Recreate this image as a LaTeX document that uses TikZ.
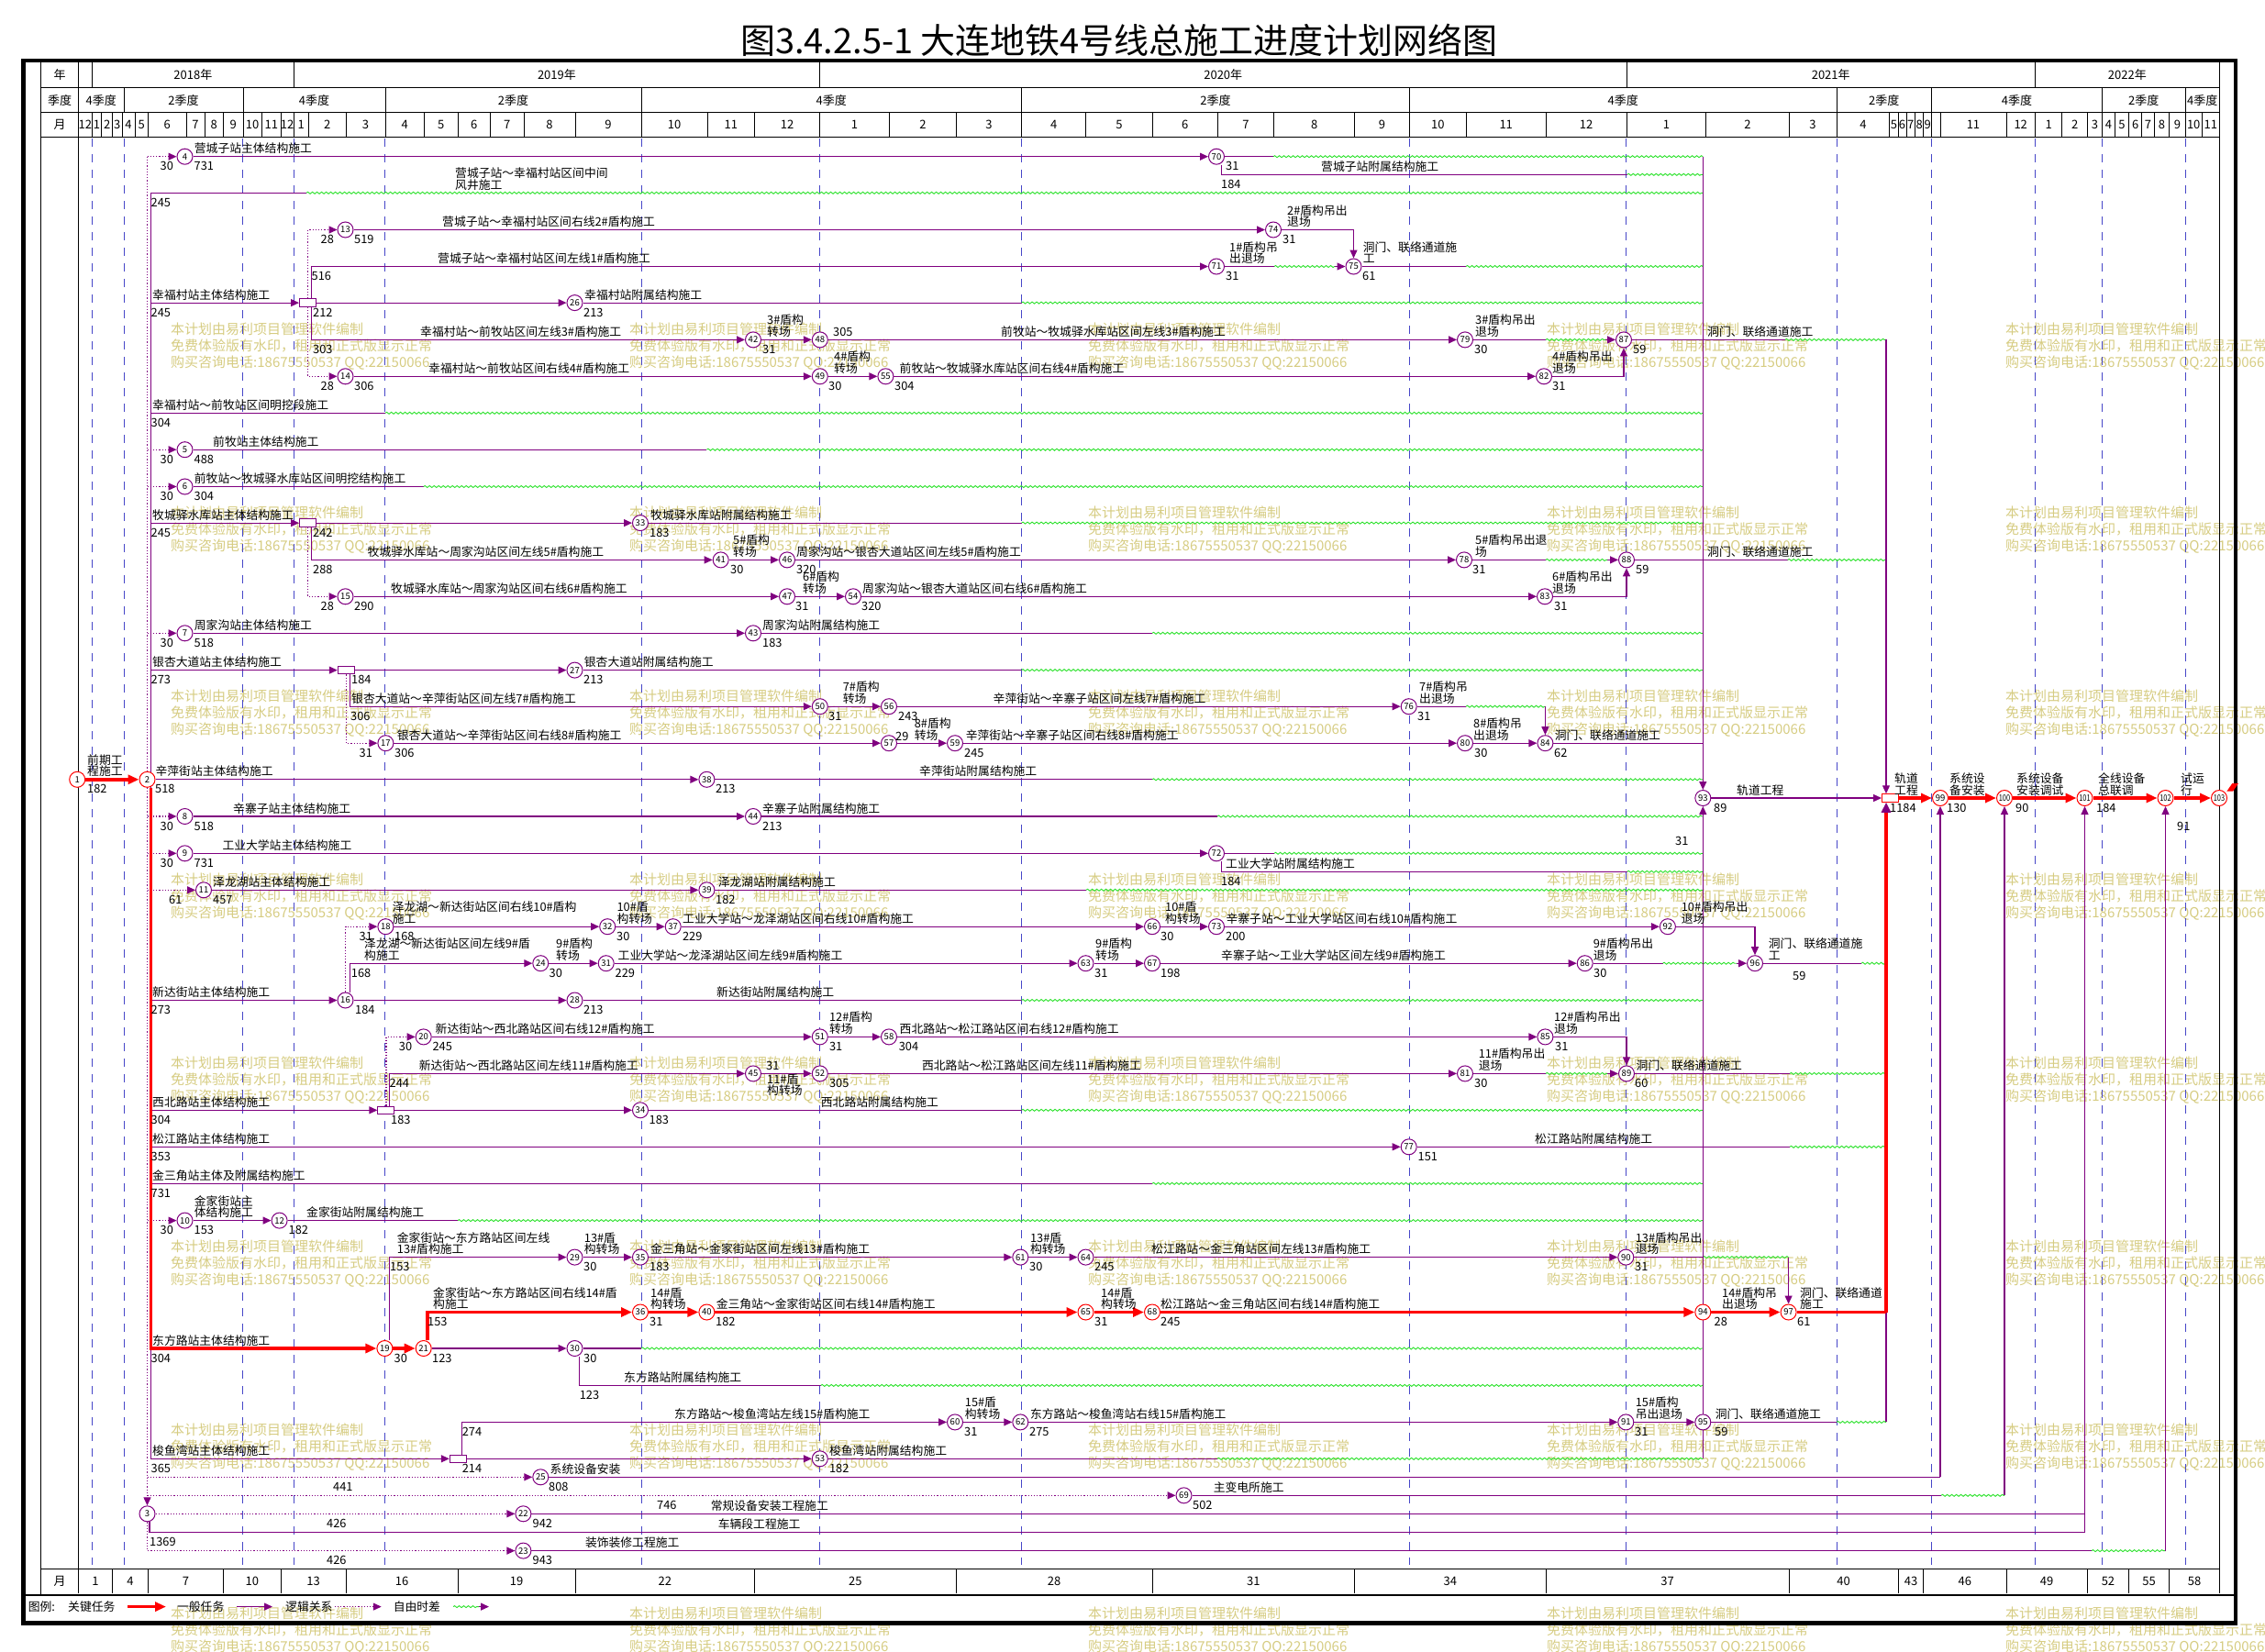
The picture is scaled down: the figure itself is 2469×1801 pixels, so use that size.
\documentclass[tikz,border=0pt]{standalone}
\usepackage{fontspec}
\usepackage{graphicx}
\setmainfont{Noto Sans CJK SC}
\usetikzlibrary{arrows.meta,decorations.pathmorphing}
\definecolor{pur}{RGB}{128,0,128}
\definecolor{grn}{RGB}{40,225,40}
\definecolor{gridb}{RGB}{70,70,200}
\definecolor{wmk}{RGB}{214,204,130}
\pgfdeclarelayer{wm}
\pgfdeclarelayer{bgl}
\pgfsetlayers{wm,bgl,main}
\newcount\lc
\newcommand\fl{\fontsize{12.8}{13}\selectfont}
\newcommand\Ab[3]{\global\advance\lc by 1 \node[lb] (t\the\lc) at (#1,#2-4) {#3};}
\newcommand\Bb[3]{\global\advance\lc by 1 \node[lb] (t\the\lc) at (#1,#2+15) {#3};}
\newcommand\At[3]{\global\advance\lc by 1 \node[lb] (t\the\lc) at (#1,#2) {#3};}
\newcommand\Tw[4]{\Ab{#1}{#2-12.5}{#3}\Ab{#1}{#2}{#4}}
\newcommand\Tb[4]{\At{#1}{#2+11}{#3}\At{#1}{#2+23.5}{#4}}
\newcommand\nn[1]{\ifnum#1>99 \scalebox{0.78}[1]{#1}\else#1\fi}
\newcommand\Cn[3]{\node[cn] (n#1) at (#2,#3) {\nn{#1}};}
\newcommand\Cr[3]{\node[cn,draw=red] (n#1) at (#2,#3) {\nn{#1}};}
\newcommand\SW[3]{\draw[ln] (n#1) -- (#2,#3) coordinate (w#1); \draw[wv] (w#1) -- (xc |- w#1);}
\newcommand\SD[3]{\draw[ln] (n#1) -- (#2,#3) coordinate (w#1); \draw[wv] (w#1) -- (xd |- w#1) coordinate (e#1);}
\newcommand\SWA[5]{\draw[ln] (n#1) -- (#3,#5) coordinate (a#1); \draw[wv] (a#1) -- (#4,#5) coordinate (b#1); \draw[ln,tri] (b#1) -- (n#2);}
\begin{document}
\begin{tikzpicture}[x=1pt,y=-1pt,
  lb/.style={anchor=base west,inner sep=0pt,font=\fl},
  cn/.style={circle,draw=pur,fill=white,line width=1pt,minimum size=17pt,inner sep=0pt,font=\fontsize{9.5}{10}\selectfont},
  bx/.style={rectangle,draw=pur,fill=white,line width=1pt,minimum width=18pt,minimum height=8.5pt,inner sep=0pt},
  ln/.style={draw=pur,line width=1.2pt},
  dt/.style={draw=pur,line width=1.2pt,dotted},
  cr/.style={draw=red,line width=3.5pt},
  wv/.style={draw=grn,line width=0.9pt,decorate,decoration={snake,amplitude=1pt,segment length=5pt}},
  tri/.style={-{Triangle[length=9pt,width=8pt]}},
  ctri/.style={-{Triangle[length=12pt,width=10pt]}},
  hd/.style={font=\fontsize{13}{13}\selectfont,inner sep=0pt},
  gl/.style={draw=black,line width=0.8pt},
  wmt/.style={anchor=base west,inner sep=0pt,text=wmk,font=\fontsize{15}{15}\selectfont}]
\useasboundingbox (0,0) rectangle (2469,1801);

% ---------- watermark ----------
\begin{pgfonlayer}{wm}
\foreach \wx [count=\i] in {186,686,1186,1686,2186}
 \foreach \wy [count=\j] in {358,558,758,958,1158,1358,1558,1758} {
  \node[wmt] (wa\i-\j) at (\wx,\wy+6) {本计划由易利项目管理软件编制};
  \node[wmt] (wb\i-\j) at (\wx,\wy+24) {免费体验版有水印，租用和正式版显示正常};
  \node[wmt] (wc\i-\j) at (\wx,\wy+42) {购买咨询电话:18675550537 QQ:22150066};
 }
\end{pgfonlayer}

% ---------- title & table ----------
\node[font=\fontsize{38}{38}\selectfont,inner sep=0pt] (title) at (1220,44) {图3.4.2.5-1 大连地铁4号线总施工进度计划网络图};
\node[hd] (hy) at (65,82) {年};
\node[hd] (hq) at (65,109.2) {季度};
\node[hd] (hm) at (65,136) {月};
\node[hd] (bm) at (65,1724) {月};
\foreach \a/\b/\t [count=\i] in {85.4/100.4/{},100.4/320.3/2018年,320.3/893.6/2019年,893.6/1772.9/2020年,1772.9/2218.5/2021年,2218.5/2419.3/2022年}
  \node[hd] (yr\i) at ({(\a+\b)/2},82) {\t};
\foreach \a/\b/\t [count=\i] in {85.4/135/4季度,135/264.9/2季度,264.9/419.9/4季度,419.9/699.1/2季度,699.1/1113.5/4季度,1113.5/1536.6/2季度,1536.6/2002/4季度,2002/2105.6/2季度,2105.6/2291.3/4季度,2291.3/2382.1/2季度,2382.1/2419.3/4季度}
  \node[hd] (qt\i) at ({(\a+\b)/2},109.2) {\t};
\foreach \a/\b/\t [count=\i] in {85.4/100.4/12,100.4/110.7/1,110.7/122.6/2,122.6/132.9/3,132.9/147.1/4,147.1/161.3/5,161.3/203.2/6,203.2/223/7,223/243.6/8,243.6/264.9/9,264.9/285.5/10,285.5/306/11,306/320.3/12,320.3/336.1/1,336.1/377.2/2,377.2/419.9/3,419.9/462.6/4,462.6/499/5,499/534.6/6,534.6/571/7,571/627.1/8,627.1/699.1/9,699.1/771/10,771/822.5/11,822.5/893.6/12,893.6/969.5/1,969.5/1042.3/2,1042.3/1113.5/3,1113.5/1183.8/4,1183.8/1256.1/5,1256.1/1327.2/6,1327.2/1388.8/7,1388.8/1476.5/8,1476.5/1536.6/9,1536.6/1598.2/10,1598.2/1685.2/11,1685.2/1772.9/12,1772.9/1859.8/1,1859.8/1949.9/2,1949.9/2002/3,2002/2059.7/4,2059.7/2069.2/5,2069.2/2077.9/6,2077.9/2087.4/7,2087.4/2096.8/8,2096.8/2105.6/9,2105.6/2115/{},2115/2186.9/11,2186.9/2218.5/12,2218.5/2247.8/1,2247.8/2275.4/2,2275.4/2291.3/3,2291.3/2305.5/4,2305.5/2320.5/5,2320.5/2334.7/6,2334.7/2348.2/7,2348.2/2364.8/8,2364.8/2382.1/9,2382.1/2400.3/10,2400.3/2419.3/11}
  \node[hd] (mo\i) at ({(\a+\b)/2},136) {\t};
\foreach \a/\b/\t [count=\i] in {85.4/122.6/1,122.6/161.3/4,161.3/243.6/7,243.6/306/10,306/377.2/13,377.2/499/16,499/627.1/19,627.1/822.5/22,822.5/1042.3/25,1042.3/1256.1/28,1256.1/1476.5/31,1476.5/1685.2/34,1685.2/1949.9/37,1949.9/2069.2/40,2069.2/2096.8/43,2096.8/2186.9/46,2186.9/2275.4/49,2275.4/2320.5/52,2320.5/2364.8/55,2364.8/2419.3/58}
  \node[hd] (ax\i) at ({(\a+\b)/2},1724) {\t};

% ---------- nodes ----------
\Cr{1}{84.2}{849.8}
\Cr{2}{160.5}{849.8}
\Cn{3}{160.5}{1650.3}
\Cn{4}{201.5}{170.7}
\Cn{5}{201.5}{490.2}
\Cn{6}{201.5}{530.5}
\Cn{7}{201.5}{690.3}
\Cn{8}{201.5}{890}
\Cn{9}{201.5}{930.3}
\Cn{10}{201.5}{1330.6}
\Cn{11}{222}{970.3}
\Cn{12}{304.6}{1330.6}
\Cn{13}{376.5}{250.5}
\Cn{14}{376.5}{410.3}
\Cn{15}{376.5}{650.3}
\Cn{16}{376.5}{1090.5}
\Cn{17}{420.4}{810.2}
\Cn{18}{420.4}{1010.2}
\Cr{19}{419.4}{1470}
\Cn{20}{461.7}{1130.4}
\Cr{21}{461.7}{1470}
\Cn{22}{570.4}{1650.3}
\Cn{23}{570.4}{1690.6}
\Cn{24}{589.3}{1050.2}
\Cn{25}{589.3}{1610.3}
\Cn{26}{626.5}{330.1}
\Cn{27}{626.5}{730.6}
\Cn{28}{626.5}{1090.5}
\Cn{29}{626.5}{1370.6}
\Cn{30}{626.5}{1470}
\Cn{31}{660.7}{1050.2}
\Cn{32}{662.2}{1010.2}
\Cn{33}{698}{570.1}
\Cn{34}{698}{1210.3}
\Cn{35}{698}{1370.6}
\Cr{36}{698}{1430.5}
\Cn{37}{733.7}{1010.2}
\Cn{38}{770.4}{849.8}
\Cn{39}{770.4}{970.3}
\Cr{40}{770.4}{1430.5}
\Cn{41}{785.7}{610.4}
\Cn{42}{821}{370.4}
\Cn{43}{821}{690.3}
\Cn{44}{821}{890}
\Cn{45}{821}{1170.4}
\Cn{46}{858}{610.4}
\Cn{47}{858}{650.3}
\Cn{48}{893.8}{370.4}
\Cn{49}{893.8}{410.3}
\Cn{50}{893.8}{770.2}
\Cn{51}{893.8}{1130.4}
\Cn{52}{893.8}{1170.4}
\Cn{53}{893.8}{1590.3}
\Cn{54}{930}{650.3}
\Cn{55}{965.4}{410.3}
\Cn{56}{969}{770.2}
\Cn{57}{969}{810.2}
\Cn{58}{969}{1130.4}
\Cn{59}{1041}{810.2}
\Cn{60}{1041}{1550.4}
\Cn{61}{1112.3}{1370.6}
\Cn{62}{1112.3}{1550.4}
\Cn{63}{1183.5}{1050.2}
\Cn{64}{1183.5}{1370.6}
\Cr{65}{1183.5}{1430.5}
\Cn{66}{1256}{1010.2}
\Cn{67}{1256}{1050.2}
\Cr{68}{1256}{1430.5}
\Cn{69}{1290.5}{1630.3}
\Cn{70}{1326}{170.7}
\Cn{71}{1326}{290.5}
\Cn{72}{1326}{930.3}
\Cn{73}{1326}{1010.2}
\Cn{74}{1388}{250.5}
\Cn{75}{1475.5}{290.5}
\Cn{76}{1535.7}{770.2}
\Cn{77}{1535.7}{1250.3}
\Cn{78}{1596}{610.4}
\Cn{79}{1597}{370.4}
\Cn{80}{1597}{810.2}
\Cn{81}{1597}{1170.4}
\Cn{82}{1683}{410.3}
\Cn{83}{1684}{650.3}
\Cn{84}{1684.4}{810.2}
\Cn{85}{1684.4}{1130.4}
\Cn{86}{1727.7}{1050.2}
\Cn{87}{1770}{370.4}
\Cn{88}{1773}{610.4}
\Cn{89}{1773}{1170.4}
\Cn{90}{1772.3}{1370.6}
\Cn{91}{1772.3}{1550.4}
\Cn{92}{1817.9}{1010.2}
\Cn{93}{1856.3}{870}
\Cr{94}{1856.3}{1430.5}
\Cn{95}{1856.3}{1550.4}
\Cn{96}{1913}{1050.2}
\Cr{97}{1949.6}{1430.5}
\node[bx,draw=red] (b98) at (2060.5,870) {};
\Cr{99}{2115}{870}
\Cr{100}{2185}{870}
\Cr{101}{2272.5}{870}
\Cr{102}{2360.5}{870}
\Cr{103}{2419}{870}
\node[bx] (bA) at (335.5,330.1) {};
\node[bx] (bB) at (335.5,570.1) {};
\node[bx] (bC) at (377.3,730.6) {};
\node[bx] (bD) at (420.9,1210.3) {};
\node[bx] (bE) at (499.3,1590.3) {};

% ---------- lines ----------
\begin{pgfonlayer}{bgl}
\foreach \gx in {100.4,135,264.9,320.3,419.9,699.1,893.6,1113.5,1536.6,1772.9,2002,2105.6,2218.5,2291.3,2382.1}
  \draw[gridb,line width=1pt,dash pattern=on 9pt off 8pt] (\gx,151) -- (\gx,1706);
\draw[line width=4.5pt] (25.5,66) rectangle (2437,1769.5);
\draw[gl] (44.5,68) -- (44.5,1738);
\draw[gl] (85.4,68) -- (85.4,1737);
\draw[gl] (2419.3,68) -- (2419.3,1737);
\foreach \hy in {95.7,122.7,149.3,1710.6} \draw[gl] (44.5,\hy) -- (2419.3,\hy);
\draw[line width=2pt] (25.5,1738.5) -- (2437,1738.5);
\foreach \a in {100.4,320.3,893.6,1772.9,2218.5} \draw[gl] (\a,68) -- (\a,95.7);
\foreach \a in {135,264.9,419.9,699.1,1113.5,1536.6,2002,2105.6,2291.3,2382.1} \draw[gl] (\a,95.7) -- (\a,122.7);
\foreach \a in {100.4,110.7,122.6,132.9,147.1,161.3,203.2,223,243.6,264.9,285.5,306,320.3,336.1,377.2,419.9,462.6,499,534.6,571,627.1,699.1,771,822.5,893.6,969.5,1042.3,1113.5,1183.8,1256.1,1327.2,1388.8,1476.5,1536.6,1598.2,1685.2,1772.9,1859.8,1949.9,2002,2059.7,2069.2,2077.9,2087.4,2096.8,2105.6,2115,2186.9,2218.5,2247.8,2275.4,2291.3,2305.5,2320.5,2334.7,2348.2,2364.8,2382.1,2400.3}
  \draw[gl] (\a,122.7) -- (\a,149.3);
\foreach \a in {122.6,161.3,243.6,306,377.2,499,627.1,822.5,1042.3,1256.1,1476.5,1685.2,1949.9,2069.2,2096.8,2186.9,2275.4,2320.5,2364.8}
  \draw[gl] (\a,1710.6) -- (\a,1737);

\coordinate (dx) at (160.5,0);
\coordinate (sx) at (164.3,0);
\coordinate (xc) at (1856.3,0);
\coordinate (xd) at (2056,0);
\coordinate (r2) at (164.3,210.3);
\coordinate (r8) at (164.3,450.3);
\coordinate (r29) at (164.3,1290.3);
\coordinate (r36) at (164.3,1590.3);

% trunks
\draw[dt] (dx |- n4) -- (n2);
\draw[dt,tri] (n2) -- (n3);
\draw[ln] (r2) -- (r36);
\foreach \k in {4,5,6,7,8,9,11,10,25,69} \draw[dt,tri] (dx |- n\k) -- (n\k);
\draw[dt,tri] (n3) -- (n22);
\draw[dt,tri] (n3) |- (n23);
\foreach \k in {bA,bB,bC,bD} \draw[ln,tri] (sx |- \k) -- (\k);
\draw[ln,tri] (r36) -- (bE);
\draw[ln,tri] (sx |- n16) -- (n16);
\draw[ln,tri] (sx |- n77) -- (n77);

% box fan-outs
\draw[dt,tri] (bA.north) |- (n13);
\draw[ln,tri] ([xshift=3.8pt]bA.north) |- (n71);
\draw[ln,tri] ([xshift=3.8pt]bA.south) |- (n42);
\draw[dt,tri] (bA.south) |- (n14);
\draw[ln,tri] ([xshift=3.8pt]bB.south) |- (n41);
\draw[dt,tri] (bB.south) |- (n15);
\draw[ln,tri] ([xshift=4.3pt]bC.south) |- (n50);
\draw[dt,tri] (bC.south) |- (n17);
\draw[dt,tri] (bD.north) |- (n20);
\draw[ln,tri] ([xshift=3.6pt]bD.north) |- (n45);
\draw[ln,tri] ([xshift=4.3pt]bE.north) |- (n60);
\draw[dt,tri] (n16.north) |- (n18);
\draw[ln,tri] ([xshift=5.1pt]n16.north) |- (n24);
\draw[ln,tri] ([xshift=5.1pt]n19.north) |- (n29);
\foreach \k/\m in {bA/26,bB/33,bC/27,bD/34,bE/53} \draw[ln,tri] (\k) -- (n\m);

% plain arrows
\foreach \u/\v in {4/70,13/74,42/48,48/79,14/49,49/55,55/82,41/46,46/78,15/47,47/54,54/83,7/43,50/56,56/76,17/57,57/59,59/80,80/84,2/38,8/44,9/72,11/39,18/32,32/37,37/66,66/73,73/92,24/31,31/63,63/67,67/86,16/28,20/51,51/58,58/85,45/52,52/81,10/12,29/35,35/61,61/64,64/90,21/30,60/62,62/91,91/95}
  \draw[ln,tri] (n\u) -- (n\v);
\foreach \u/\v in {74/75,82/87,83/88,85/89,92/96} \draw[ln,tri] (n\u) -| (n\v);

% free-float endings
\draw[ln] (r2) -- (334,210.3) coordinate (w2); \draw[wv] (w2) -- (xc |- w2);
\draw[ln] (r8) -- (420,450.3) coordinate (w8); \draw[wv] (w8) -- (xc |- w8);
\draw[ln] (r29) -- (1256,1290.3) coordinate (w29); \draw[wv] (w29) -- (xc |- w29);
\SW{70}{1388}{170.7}
\SW{75}{1598}{290.5}
\SW{26}{1113.5}{330.1}
\SW{5}{770.4}{490.2}
\SW{6}{461.7}{530.5}
\SW{33}{1113.5}{570.1}
\SW{43}{1256}{690.3}
\SW{27}{1113.5}{730.6}
\SW{38}{1256}{849.8}
\SW{44}{1327}{890}
\SW{72}{1389}{930.3}
\SW{39}{1184}{970.3}
\SW{28}{1113.5}{1090.5}
\SW{34}{1113.5}{1210.3}
\SW{12}{499}{1330.6}
\SW{30}{699.1}{1470}
\SW{53}{1327}{1590.3}
\draw[ln] ([xshift=5.8pt]n70.south) |- (1773.7,190.3) coordinate (w70b); \draw[wv] (w70b) -- (xc |- w70b);
\draw[ln] ([xshift=5.8pt]n72.south) |- (1773.7,950.3) coordinate (w72b); \draw[wv] (w72b) -- (xc |- w72b);
\draw[ln] ([xshift=5.1pt]n30.south) |- (894.7,1510.4) coordinate (w30b); \draw[wv] (w30b) -- (xc |- w30b);
\SWA{71}{75}{1389}{1455}{290.5}
\SWA{79}{87}{1685}{1750}{370.4}
\SWA{78}{88}{1685}{1752}{610.4}
\SWA{86}{96}{1812.5}{1893}{1050.2}
\SWA{81}{89}{1685}{1752}{1170.4}
\draw[ln] (n76) -- (1598,770.2) coordinate (a76); \draw[wv] (a76) -- (n84 |- a76) coordinate (b76); \draw[ln,tri] (b76) -- (n84);
\draw[ln] (n90) -- (xc |- n90) coordinate (a90); \draw[wv] (a90) -- (n97 |- a90) coordinate (b90); \draw[ln,tri] (b90) -- (n97);
\draw[ln] (n84) -- (xc |- n84);
\SD{87}{1946}{370.4}
\SD{88}{1948.7}{610.4}
\SD{96}{2029}{1050.2}
\SD{89}{1951}{1170.4}
\SD{77}{1951}{1250.3}
\SD{95}{2002}{1550.4}

% collectors
\draw[ln,tri] (xc |- n4) -- (n93);
\draw[ln,tri] (xc |- n53) -- (n93);
\draw[ln,tri] (e87) -- (xd |- b98.north);
\draw[ln] (e95) -- (xd |- n97);
\draw[ln,tri] (n93) -- (b98);

% bottom rows
\draw[ln] (n25) -- (n99 |- n25) coordinate (v99); \draw[ln,tri] (v99) -- (n99);
\draw[ln] (n69) -- (2116,1630.3) coordinate (a69); \draw[wv] (a69) -- (n100 |- a69) coordinate (v100); \draw[ln,tri] (v100) -- (n100);
\draw[ln] (n22) -- (n101 |- n22) coordinate (v101); \draw[ln,tri] (v101) -- (n101);
\coordinate (v101b) at (2272.5,1670.2);
\draw[ln] ([xshift=2.5pt]n3.south) |- (v101b) -- (v101);
\draw[ln] (n23) -- (2280,1690.6) coordinate (a23); \draw[wv] (a23) -- (n102 |- a23) coordinate (v102); \draw[ln,tri] (v102) -- (n102);

% critical path
\draw[cr,ctri] (n1) -- (n2);
\draw[cr,ctri] ([xshift=3.8pt]n2.south) |- (n19);
\draw[cr,ctri] ([xshift=4.1pt]n21.north) |- (n36);
\foreach \u/\v in {19/21,36/40,40/65,65/68,68/94,94/97,99/100,100/101,101/102,102/103}
  \draw[cr,ctri] (n\u) -- (n\v);
\draw[cr] (n97) -- (xd |- n97) coordinate (c97);
\draw[cr,-{Triangle[length=11pt,width=10pt,color=pur]}] (c97) -- (xd |- b98.south);
\draw[cr,ctri] (b98) -- (n99);
\fill[red] (2427.3,862.7) -- (2433.3,854) -- (2440,854) -- (2434,862.7) -- cycle;

% legend
\coordinate (lg1) at (138.8,1751.6); \coordinate (lg2) at (181,1751.6);
\coordinate (lg3) at (257.7,1751.6); \coordinate (lg4) at (297,1751.6);
\coordinate (lg5) at (364.8,1751.6); \coordinate (lg6) at (415.8,1751.6);
\coordinate (lg7) at (494,1751.6); \coordinate (lg8) at (522,1751.6); \coordinate (lg9) at (533,1751.6);
\draw[cr,ctri] (lg1) -- (lg2);
\draw[ln,tri] (lg3) -- (lg4);
\draw[dt,tri] (lg5) -- (lg6);
\draw[wv] (lg7) -- (lg8); \draw[ln,tri] (lg8) -- (lg9);
\end{pgfonlayer}

% ---------- labels ----------
\At{30.6}{1756}{图例:}
\At{74}{1756}{关键任务}
\At{192.9}{1756}{一般任务}
\At{311}{1756}{逻辑关系}
\At{428.6}{1756}{自由时差}
% R1
\Bb{174.5}{170.7}{30}
\Bb{211.5}{170.7}{731}
\Ab{211.7}{170.7}{营城子站主体结构施工}
\Bb{1336}{170.7}{31}
\Ab{1440}{190.3}{营城子站附属结构施工}
\Bb{1331}{190.3}{184}
% R2
\Bb{164.5}{210.3}{245}
\Tw{496}{210.3}{营城子站～幸福村站区间中间}{风井施工}
% R3
\Bb{349.5}{250.5}{28}
\Bb{386}{250.5}{519}
\Ab{482}{250.5}{营城子站～幸福村站区间右线2\#盾构施工}
\Tw{1403}{250.5}{2\#盾构吊出}{退场}
\Bb{1398}{250.5}{31}
% R4
\Bb{339.5}{290.5}{516}
\Ab{477}{290.5}{营城子站～幸福村站区间左线1\#盾构施工}
\Tw{1340}{290.5}{1\#盾构吊}{出退场}
\Bb{1336}{290.5}{31}
\Tw{1485.6}{290.5}{洞门、联络通道施}{工}
\Bb{1485}{290.5}{61}
% R5
\Ab{166}{330.1}{幸福村站主体结构施工}
\Bb{164.5}{330.1}{245}
\Bb{341}{330.1}{212}
\Bb{636}{330.1}{213}
\Ab{637}{330.1}{幸福村站附属结构施工}
% R6
\Bb{341}{370.4}{303}
\Ab{458}{370.4}{幸福村站～前牧站区间左线3\#盾构施工}
\Tw{836}{370.4}{3\#盾构}{转场}
\Bb{831}{370.4}{31}
\Ab{908}{370.4}{305}
\Ab{1091}{370.4}{前牧站～牧城驿水库站区间左线3\#盾构施工}
\Tw{1608}{370.4}{3\#盾构吊出}{退场}
\Bb{1607}{370.4}{30}
\Bb{1780}{370.4}{59}
\Ab{1861}{370.4}{洞门、联络通道施工}
% R7
\Bb{349.5}{410.3}{28}
\Bb{386}{410.3}{306}
\Ab{467}{410.3}{幸福村站～前牧站区间右线4\#盾构施工}
\Tw{909}{410.3}{4\#盾构}{转场}
\Bb{903}{410.3}{30}
\Bb{975}{410.3}{304}
\Ab{980.5}{410.3}{前牧站～牧城驿水库站区间右线4\#盾构施工}
\Tw{1692}{410.3}{4\#盾构吊出}{退场}
\Bb{1692}{410.3}{31}
% R8
\Ab{166}{450.3}{幸福村站～前牧站区间明挖段施工}
\Bb{164.5}{450.3}{304}
% R9
\Bb{174.5}{490.2}{30}
\Bb{211.5}{490.2}{488}
\Ab{232}{490.2}{前牧站主体结构施工}
% R10
\Bb{174.5}{530.5}{30}
\Bb{211.5}{530.5}{304}
\Ab{211.7}{530.5}{前牧站～牧城驿水库站区间明挖结构施工}
% R11
\Ab{166}{570.1}{牧城驿水库站主体结构施工}
\Bb{164.5}{570.1}{245}
\Bb{341}{570.1}{242}
\Bb{708}{570.1}{183}
\Ab{709}{570.1}{牧城驿水库站附属结构施工}
% R12
\Bb{341}{610.4}{288}
\Ab{400.5}{610.4}{牧城驿水库站～周家沟站区间左线5\#盾构施工}
\Tw{799}{610.4}{5\#盾构}{转场}
\Bb{796}{610.4}{30}
\Bb{868}{610.4}{320}
\Ab{868}{610.4}{周家沟站～银杏大道站区间左线5\#盾构施工}
\Tw{1608}{610.4}{5\#盾构吊出退}{场}
\Bb{1605}{610.4}{31}
\Bb{1783}{610.4}{59}
\Ab{1861}{610.4}{洞门、联络通道施工}
% R13
\Bb{349.5}{650.3}{28}
\Bb{386}{650.3}{290}
\Ab{426}{650.3}{牧城驿水库站～周家沟站区间右线6\#盾构施工}
\Tw{875}{650.3}{6\#盾构}{转场}
\Bb{867}{650.3}{31}
\Bb{939}{650.3}{320}
\Ab{940}{650.3}{周家沟站～银杏大道站区间右线6\#盾构施工}
\Tw{1692}{650.3}{6\#盾构吊出}{退场}
\Bb{1694}{650.3}{31}
% R14
\Bb{174.5}{690.3}{30}
\Bb{211.5}{690.3}{518}
\Ab{211.7}{690.3}{周家沟站主体结构施工}
\Bb{831}{690.3}{183}
\Ab{831}{690.3}{周家沟站附属结构施工}
% R15
\Ab{166}{730.6}{银杏大道站主体结构施工}
\Bb{164.5}{730.6}{273}
\Bb{383}{730.6}{184}
\Bb{636}{730.6}{213}
\Ab{636.7}{730.6}{银杏大道站附属结构施工}
% R16
\Bb{382}{770.2}{306}
\Ab{383}{770.2}{银杏大道站～辛萍街站区间左线7\#盾构施工}
\Tw{918.6}{770.2}{7\#盾构}{转场}
\Bb{903}{770.2}{31}
\Bb{979}{770.2}{243}
\Ab{1082.5}{770.2}{辛萍街站～辛寨子站区间左线7\#盾构施工}
\Tw{1547}{770.2}{7\#盾构吊}{出退场}
\Bb{1545}{770.2}{31}
% R17
\Bb{391.5}{810.2}{31}
\Bb{430}{810.2}{306}
\Ab{432.7}{810.2}{银杏大道站～辛萍街站区间右线8\#盾构施工}
\At{976}{807}{29}
\Tw{996.6}{810.2}{8\#盾构}{转场}
\Bb{1051}{810.2}{245}
\Ab{1052.6}{810.2}{辛萍街站～辛寨子站区间右线8\#盾构施工}
\Tw{1606}{810.2}{8\#盾构吊}{出退场}
\Bb{1607}{810.2}{30}
\Ab{1694.6}{810.2}{洞门、联络通道施工}
\Bb{1694}{810.2}{62}
% R18
\Tw{95}{849.8}{前期工}{程施工}
\Bb{95}{849.8}{182}
\Ab{169.4}{849.8}{辛萍街站主体结构施工}
\Bb{169}{849.8}{518}
\Bb{780}{849.8}{213}
\Ab{1002}{849.8}{辛萍街站附属结构施工}
% R19
\Bb{174.5}{890}{30}
\Bb{211.5}{890}{518}
\Ab{254}{890}{辛寨子站主体结构施工}
\Bb{831}{890}{213}
\Ab{831}{890}{辛寨子站附属结构施工}
% R20
\Bb{174.5}{930.3}{30}
\Bb{211.5}{930.3}{731}
\Ab{242.3}{930.3}{工业大学站主体结构施工}
\Ab{1336}{950.3}{工业大学站附属结构施工}
\Bb{1331}{950.3}{184}
% R21
\Bb{184}{970.3}{61}
\Bb{232}{970.3}{457}
\Ab{232}{970.3}{泽龙湖站主体结构施工}
\Bb{780}{970.3}{182}
\Ab{782.6}{970.3}{泽龙湖站附属结构施工}
% R22
\Bb{391.5}{1010.2}{31}
\Bb{430}{1010.2}{168}
\Tw{427.6}{1010.2}{泽龙湖～新达街站区间右线10\#盾构}{施工}
\Tw{672.4}{1010.2}{10\#盾}{构转场}
\Bb{672}{1010.2}{30}
\Bb{743.9}{1010.2}{229}
\Ab{744}{1010.2}{工业大学站～龙泽湖站区间右线10\#盾构施工}
\Tw{1270}{1010.2}{10\#盾}{构转场}
\Bb{1265}{1010.2}{30}
\Bb{1336}{1010.2}{200}
\Ab{1336.4}{1010.2}{辛寨子站～工业大学站区间右线10\#盾构施工}
\Tw{1832.6}{1010.2}{10\#盾构吊出}{退场}
% R23
\Bb{382.7}{1050.2}{168}
\Tw{397}{1050.2}{泽龙湖～新达街站区间左线9\#盾}{构施工}
\Tw{606}{1050.2}{9\#盾构}{转场}
\Bb{598.5}{1050.2}{30}
\Bb{670.5}{1050.2}{229}
\Ab{673.5}{1050.2}{工业大学站～龙泽湖站区间左线9\#盾构施工}
\Tw{1194}{1050.2}{9\#盾构}{转场}
\Bb{1193}{1050.2}{31}
\Bb{1265}{1050.2}{198}
\Ab{1331}{1050.2}{辛寨子站～工业大学站区间左线9\#盾构施工}
\Tw{1736.6}{1050.2}{9\#盾构吊出}{退场}
\Bb{1737}{1050.2}{30}
\Tw{1927.7}{1050.2}{洞门、联络通道施}{工}
\At{1954}{1068.5}{59}
% R24
\Ab{166}{1090.5}{新达街站主体结构施工}
\Bb{164.5}{1090.5}{273}
\Bb{387}{1090.5}{184}
\Bb{636}{1090.5}{213}
\Ab{781}{1090.5}{新达街站附属结构施工}
% R25
\Bb{434.7}{1130.4}{30}
\Bb{471.4}{1130.4}{245}
\Ab{474.5}{1130.4}{新达街站～西北路站区间右线12\#盾构施工}
\Tw{903.9}{1130.4}{12\#盾构}{转场}
\Bb{903.9}{1130.4}{31}
\Bb{979.6}{1130.4}{304}
\Ab{980.5}{1130.4}{西北路站～松江路站区间右线12\#盾构施工}
\Tw{1694}{1130.4}{12\#盾构吊出}{退场}
\Bb{1695}{1130.4}{31}
% R26
\Bb{424.5}{1170.4}{244}
\Ab{456.6}{1170.4}{新达街站～西北路站区间左线11\#盾构施工}
\Ab{835}{1170.4}{31}
\Tb{836}{1170.4}{11\#盾}{构转场}
\Bb{903.9}{1170.4}{305}
\Ab{1004.9}{1170.4}{西北路站～松江路站区间左线11\#盾构施工}
\Tw{1611.6}{1170.4}{11\#盾构吊出}{退场}
\Bb{1607}{1170.4}{30}
\Bb{1782}{1170.4}{60}
\Ab{1783.5}{1170.4}{洞门、联络通道施工}
% R27
\Ab{166}{1210.3}{西北路站主体结构施工}
\Bb{164.5}{1210.3}{304}
\Bb{426}{1210.3}{183}
\Bb{707.5}{1210.3}{183}
\Ab{894.7}{1210.3}{西北路站附属结构施工}
% R28
\Ab{166}{1250.3}{松江路站主体结构施工}
\Bb{164.5}{1250.3}{353}
\Bb{1545.5}{1250.3}{151}
\Ab{1673}{1250.3}{松江路站附属结构施工}
% R29
\Ab{166}{1290.3}{金三角站主体及附属结构施工}
\Bb{164.5}{1290.3}{731}
% R30
\Bb{174.5}{1330.6}{30}
\Bb{211.5}{1330.6}{153}
\Tw{211.7}{1330.6}{金家街站主}{体结构施工}
\Bb{314.5}{1330.6}{182}
\Ab{334}{1330.6}{金家街站附属结构施工}
% R31
\Bb{425}{1370.6}{153}
\Tw{432.7}{1370.6}{金家街站～东方路站区间左线}{13\#盾构施工}
\Tw{636.7}{1370.6}{13\#盾}{构转场}
\Bb{636}{1370.6}{30}
\Bb{708}{1370.6}{183}
\Ab{709}{1370.6}{金三角站～金家街站区间左线13\#盾构施工}
\Tw{1122.9}{1370.6}{13\#盾}{构转场}
\Bb{1122}{1370.6}{30}
\Bb{1193}{1370.6}{245}
\Ab{1255}{1370.6}{松江路站～金三角站区间左线13\#盾构施工}
\Tw{1782.6}{1370.6}{13\#盾构吊出}{退场}
\Bb{1782}{1370.6}{31}
% R32
\Bb{466}{1430.5}{153}
\Tw{472}{1430.5}{金家街站～东方路站区间右线14\#盾}{构施工}
\Tw{709}{1430.5}{14\#盾}{构转场}
\Bb{708}{1430.5}{31}
\Bb{780}{1430.5}{182}
\Ab{780.6}{1430.5}{金三角站～金家街站区间右线14\#盾构施工}
\Tw{1200}{1430.5}{14\#盾}{构转场}
\Bb{1193}{1430.5}{31}
\Bb{1265}{1430.5}{245}
\Ab{1265}{1430.5}{松江路站～金三角站区间右线14\#盾构施工}
\Tw{1877}{1430.5}{14\#盾构吊}{出退场}
\Bb{1868.5}{1430.5}{28}
\Tw{1962}{1430.5}{洞门、联络通道}{施工}
\Bb{1959}{1430.5}{61}
% R33
\Ab{166}{1470}{东方路站主体结构施工}
\Bb{164.5}{1470}{304}
\Bb{429.5}{1470}{30}
\Bb{471}{1470}{123}
\Bb{636}{1470}{30}
% R34
\Ab{680}{1510.4}{东方路站附属结构施工}
\Bb{631.6}{1510.4}{123}
% R35
\Bb{503.6}{1550.4}{274}
\Ab{735}{1550.4}{东方路站～梭鱼湾站左线15\#盾构施工}
\Tw{1051.7}{1550.4}{15\#盾}{构转场}
\Bb{1051}{1550.4}{31}
\Bb{1122}{1550.4}{275}
\Ab{1122.9}{1550.4}{东方路站～梭鱼湾站右线15\#盾构施工}
\Tw{1782.6}{1550.4}{15\#盾构}{吊出退场}
\Bb{1782}{1550.4}{31}
\Bb{1869}{1550.4}{59}
\Ab{1869.6}{1550.4}{洞门、联络通道施工}
% R36
\Ab{166}{1590.3}{梭鱼湾站主体结构施工}
\Bb{164.5}{1590.3}{365}
\Bb{503.6}{1590.3}{214}
\Bb{903.9}{1590.3}{182}
\Ab{903.9}{1590.3}{梭鱼湾站附属结构施工}
% R37-R41
\Bb{363}{1610.3}{441}
\Bb{598}{1610.3}{808}
\Ab{599.5}{1610.3}{系统设备安装}
\Bb{716}{1630.3}{746}
\Bb{1300}{1630.3}{502}
\Ab{1322.6}{1630.3}{主变电所施工}
\Bb{356}{1650.3}{426}
\Bb{580.5}{1650.3}{942}
\Ab{774.6}{1650.3}{常规设备安装工程施工}
\Bb{163}{1670.2}{1369}
\Ab{782.6}{1670.2}{车辆段工程施工}
\Bb{356}{1690.6}{426}
\Bb{580.5}{1690.6}{943}
\Ab{637.8}{1690.6}{装饰装修工程施工}
% final chain
\Ab{1893}{870}{轨道工程}
\Bb{1868}{870}{89}
\At{1826}{921}{31}
\Tw{2065}{870}{轨道}{工程}
\Bb{2060}{870}{1184}
\Tw{2125}{870}{系统设}{备安装}
\Bb{2122}{870}{130}
\Tw{2198}{870}{系统设备}{安装调试}
\Bb{2197}{870}{90}
\Tw{2287}{870}{全线设备}{总联调}
\Bb{2285}{870}{184}
\Tw{2377}{870}{试运}{行}
\At{2373}{905}{91}
\end{tikzpicture}
\end{document}
